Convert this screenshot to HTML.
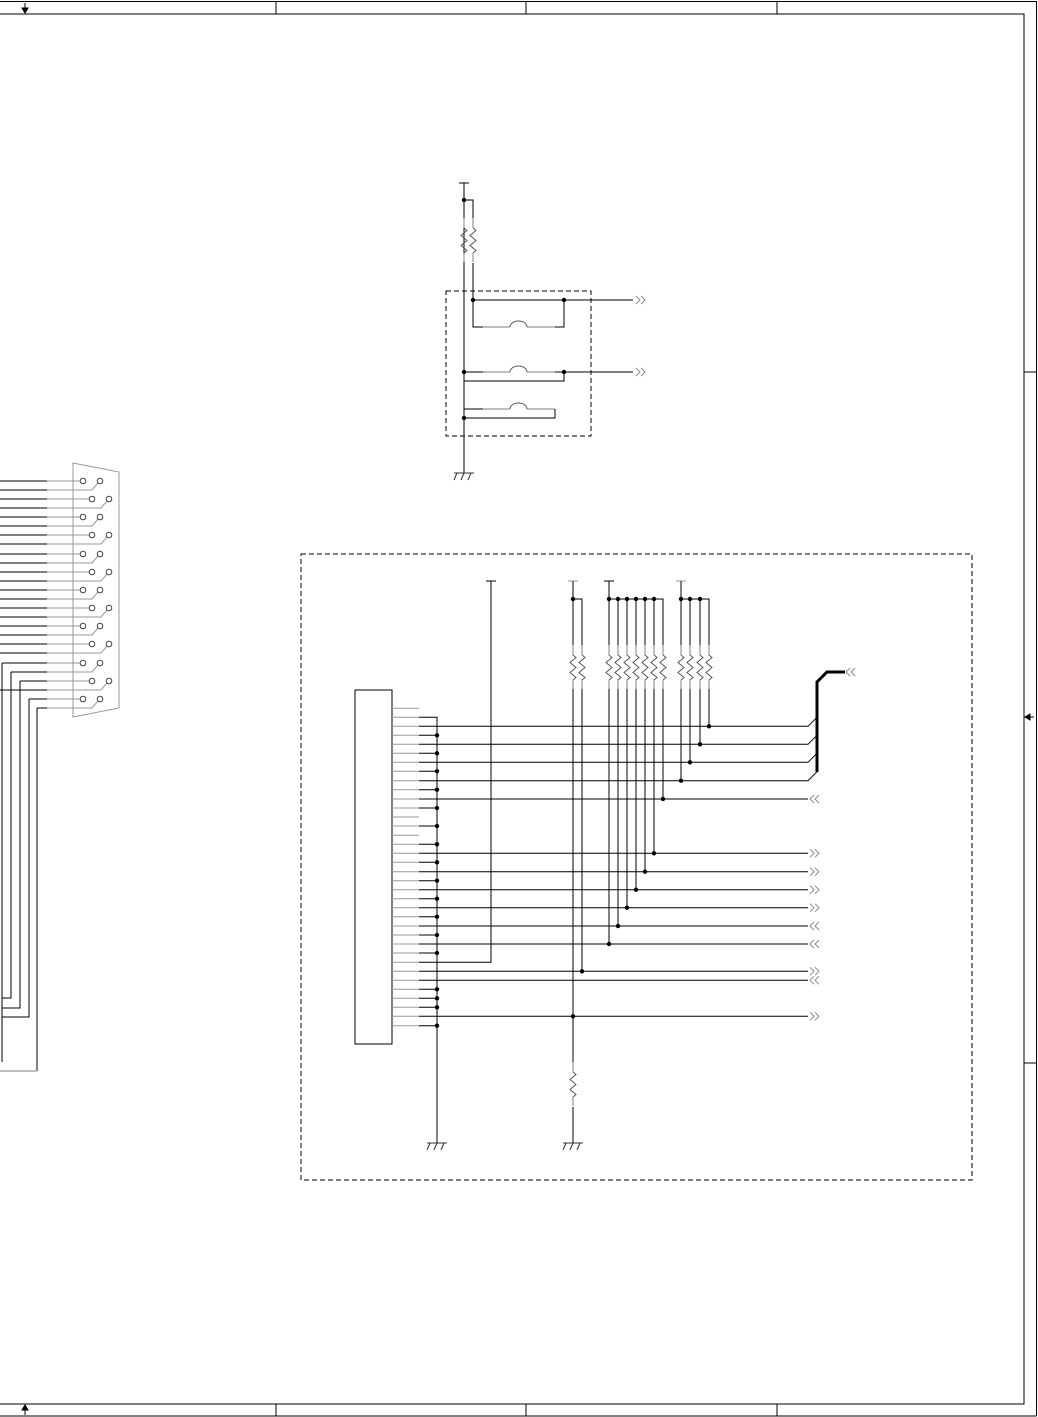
<!DOCTYPE html>
<html><head><meta charset="utf-8"><style>html,body{margin:0;padding:0;background:#fff}svg{display:block}</style></head>
<body>
<svg width="1038" height="1417" viewBox="0 0 1038 1417" xmlns="http://www.w3.org/2000/svg" fill="none" stroke="#000" stroke-width="1">
<defs>
<g id="R"><path d="M0 0V10" stroke="#aaa" stroke-width="1.5"/><path d="M0 10l3 2.5-6 5 6 5-6 5 6 5-3 2.5" stroke="#555"/><path d="M0 35V44" stroke="#aaa" stroke-width="1.5"/></g>
<g id="G"><path d="M-10 0H10M-7 0l-3 7M0 0l-3 7M7 0l-3 7" stroke="#333"/></g>
<g id="O"><path d="M0 -4l4 4-4 4M5 -4l4 4-4 4" stroke="#888"/></g>
<g id="I"><path d="M9 -4l-4 4 4 4M4 -4l-4 4 4 4" stroke="#888"/></g>
<circle id="d" r="2.2" fill="#000" stroke="none"/>
</defs>

<!-- frame -->
<path d="M0 1.5H1036.5V1416M0 14H1024V1404H0M0 1416H1036.5M276 1.5V14M526 1.5V14M777 1.5V14M276 1404V1416M526 1404V1416M777 1404V1416M1024 372H1036.5M1024 1063H1036.5"/>
<path d="M25 3V12" /><path d="M22 8l3 5 3-5z" fill="#000"/>
<path d="M25 1415V1406"/><path d="M22 1410l3-5 3 5z" fill="#000"/>
<path d="M1024 717H1034"/><path d="M1025 717l5-3v6z" fill="#000"/>

<!-- top circuit -->
<path d="M459 183H469M464 183V473M464 200H473V218M473 263V300"/>
<use href="#R" x="464" y="218"/><use href="#R" x="473" y="218"/>
<use href="#G" x="464" y="473"/>
<rect x="446" y="291" width="145" height="145" stroke-dasharray="5,3"/>
<path d="M473 300H633M564 300V327H555M473 300V327H483"/>
<path d="M483 327H510M527 327H555M483 372H510M527 372H555M483 409H510M527 409H555" stroke="#aaa" stroke-width="1.5"/>
<path d="M510 327a8.5 6 0 0 1 17 0M510 372a8.5 6 0 0 1 17 0M510 409a8.5 6 0 0 1 17 0" stroke="#555"/>
<path d="M464 372H483M555 372H633M464 381H564V372M464 409H483M555 409V418H464"/>
<use href="#d" x="464" y="200"/><use href="#d" x="473" y="300"/><use href="#d" x="564" y="300"/>
<use href="#d" x="464" y="372"/><use href="#d" x="564" y="372"/><use href="#d" x="464" y="418"/>
<use href="#O" x="636" y="300"/><use href="#O" x="636" y="372"/>

<!-- DB connector -->
<path d="M73 463L119 472V708L73 717Z" stroke="#999"/>
<g id="db">
<path d="M0 481H47M0 499H47M0 517H47M0 535H47M0 554H47M0 572H47M0 590H47M0 608H47M0 626H47M0 644H47M2 663H47M20 681H47M29 699H47
M0 490H47M0 508H47M0 526H47M0 544H47M0 563H47M0 581H47M0 599H47M0 617H47M0 635H47M0 653H47M11 672H47M0 690H47M37 708H47"/>
<path d="M2 663V1062M11 672V998H2M20 681V1008H2M29 699V1017H2M37 708V1071" />
<path d="M0 1071H37" stroke="#aaa" stroke-width="1.5"/>
<g stroke="#999">
<path d="M47 481H80M47 499H89M47 517H80M47 535H89M47 554H80M47 572H89M47 590H80M47 608H89M47 626H80M47 644H89M47 663H80M47 681H89M47 699H80"/>
<path d="M47 490H92l6-7M47 508H101l6-7M47 526H92l6-7M47 544H101l6-7M47 563H92l6-7M47 581H101l6-7M47 599H92l6-7M47 617H101l6-7M47 635H92l6-7M47 653H101l6-7M47 672H92l6-7M47 690H101l6-7M47 708H92l6-7"/>
</g>
<g stroke="#444">
<circle cx="83" cy="481" r="2.8"/><circle cx="100" cy="481" r="2.8"/>
<circle cx="92" cy="499" r="2.8"/><circle cx="109" cy="499" r="2.8"/>
<circle cx="83" cy="517" r="2.8"/><circle cx="100" cy="517" r="2.8"/>
<circle cx="92" cy="535" r="2.8"/><circle cx="109" cy="535" r="2.8"/>
<circle cx="83" cy="554" r="2.8"/><circle cx="100" cy="554" r="2.8"/>
<circle cx="92" cy="572" r="2.8"/><circle cx="109" cy="572" r="2.8"/>
<circle cx="83" cy="590" r="2.8"/><circle cx="100" cy="590" r="2.8"/>
<circle cx="92" cy="608" r="2.8"/><circle cx="109" cy="608" r="2.8"/>
<circle cx="83" cy="626" r="2.8"/><circle cx="100" cy="626" r="2.8"/>
<circle cx="92" cy="644" r="2.8"/><circle cx="109" cy="644" r="2.8"/>
<circle cx="83" cy="663" r="2.8"/><circle cx="100" cy="663" r="2.8"/>
<circle cx="92" cy="681" r="2.8"/><circle cx="109" cy="681" r="2.8"/>
<circle cx="83" cy="699" r="2.8"/><circle cx="100" cy="699" r="2.8"/>
</g>
</g>

<!-- main dashed box -->
<rect x="301" y="554" width="671" height="626" stroke-dasharray="5,3"/>
<rect x="355" y="690" width="37" height="354"/>
<!-- pin stubs -->
<path stroke="#999" d="M392 708.3H419M392 717.3H419M392 726.3H419M392 735.3H419M392 744.3H419M392 753.3H419M392 762.3H419M392 771.3H419M392 780.7H419M392 789.7H419M392 799H419M392 808H419M392 817H419M392 826H419M392 835.3H419M392 844.3H419M392 853.3H419M392 862.3H419M392 871.7H419M392 880.7H419M392 889.7H419M392 898.7H419M392 907.7H419M392 916.7H419M392 926H419M392 935H419M392 944H419M392 953H419M392 962.3H419M392 971.3H419M392 980.3H419M392 989.3H419M392 998.3H419M392 1007.3H419M392 1016.3H419M392 1025.7H419"/>
<!-- ground bus pins -->
<path d="M419 717.3H437V1143M419 735.3H437M419 753.3H437M419 771.3H437M419 789.7H437M419 808H437M419 826H437M419 844.3H437M419 862.3H437M419 880.7H437M419 898.7H437M419 916.7H437M419 935H437M419 953H437M419 989.3H437M419 998.3H437M419 1007.3H437M419 1025.7H437"/>
<g>
<use href="#d" x="437" y="735.3"/><use href="#d" x="437" y="753.3"/><use href="#d" x="437" y="771.3"/><use href="#d" x="437" y="789.7"/><use href="#d" x="437" y="808"/><use href="#d" x="437" y="826"/><use href="#d" x="437" y="844.3"/><use href="#d" x="437" y="862.3"/><use href="#d" x="437" y="880.7"/><use href="#d" x="437" y="898.7"/><use href="#d" x="437" y="916.7"/><use href="#d" x="437" y="935"/><use href="#d" x="437" y="953"/><use href="#d" x="437" y="989.3"/><use href="#d" x="437" y="998.3"/><use href="#d" x="437" y="1007.3"/><use href="#d" x="437" y="1025.7"/>
</g>
<use href="#G" x="437" y="1143"/>
<!-- signal lines -->
<path d="M419 726.3H808l9-9M419 744.3H808l9-9M419 762.3H808l9-9M419 780.7H808l9-9M419 799H808M419 853.3H808M419 871.7H808M419 889.7H808M419 907.7H808M419 926H808M419 944H808M419 962.3H491V581M486 581H496M419 971.3H808M419 980.3H808M419 1016.3H808"/>
<!-- bus -->
<path d="M817 772V682L827 672H845" stroke-width="3"/>
<use href="#I" x="846" y="672"/>
<use href="#I" x="810" y="799"/><use href="#O" x="810" y="853.3"/><use href="#O" x="810" y="871.7"/><use href="#O" x="810" y="889.7"/><use href="#O" x="810" y="907.7"/><use href="#I" x="810" y="926"/><use href="#I" x="810" y="944"/><use href="#O" x="810" y="971.3"/><use href="#I" x="810" y="980.3"/><use href="#O" x="810" y="1016.3"/>
<!-- pull-up group 1 -->
<path d="M568 581H578" stroke="#999"/><path d="M573 581V599H582V645M573 599V645M573 689V1062M573 1107V1143M582 689V971.3"/>
<use href="#R" x="573" y="645"/><use href="#R" x="582" y="645"/><use href="#R" x="573" y="1062"/>
<use href="#G" x="573" y="1143"/>
<use href="#d" x="573" y="599"/><use href="#d" x="582" y="971.3"/><use href="#d" x="573" y="1016.3"/>
<!-- group 2 -->
<path d="M604 581H614M609 581V599H663V645M618 599V645M627 599V645M636 599V645M645 599V645M654 599V645M609 599V645"/>
<path d="M663 689V799M654 689V853.3M645 689V871.7M636 689V889.7M627 689V907.7M618 689V926M609 689V944"/>
<use href="#R" x="609" y="645"/><use href="#R" x="618" y="645"/><use href="#R" x="627" y="645"/><use href="#R" x="636" y="645"/><use href="#R" x="645" y="645"/><use href="#R" x="654" y="645"/><use href="#R" x="663" y="645"/>
<use href="#d" x="609" y="599"/><use href="#d" x="618" y="599"/><use href="#d" x="627" y="599"/><use href="#d" x="636" y="599"/><use href="#d" x="645" y="599"/><use href="#d" x="654" y="599"/>
<use href="#d" x="663" y="799"/><use href="#d" x="654" y="853.3"/><use href="#d" x="645" y="871.7"/><use href="#d" x="636" y="889.7"/><use href="#d" x="627" y="907.7"/><use href="#d" x="618" y="926"/><use href="#d" x="609" y="944"/>
<!-- group 3 -->
<path d="M676 581H686" stroke="#999"/><path d="M681 581V599H709V645M690 599V645M700 599V645M681 599V645M709 689V726.3M700 689V744.3M690 689V762.3M681 689V780.7"/>
<use href="#R" x="681" y="645"/><use href="#R" x="690" y="645"/><use href="#R" x="700" y="645"/><use href="#R" x="709" y="645"/>
<use href="#d" x="681" y="599"/><use href="#d" x="690" y="599"/><use href="#d" x="700" y="599"/>
<use href="#d" x="709" y="726.3"/><use href="#d" x="700" y="744.3"/><use href="#d" x="690" y="762.3"/><use href="#d" x="681" y="780.7"/>
</svg>
</body></html>
